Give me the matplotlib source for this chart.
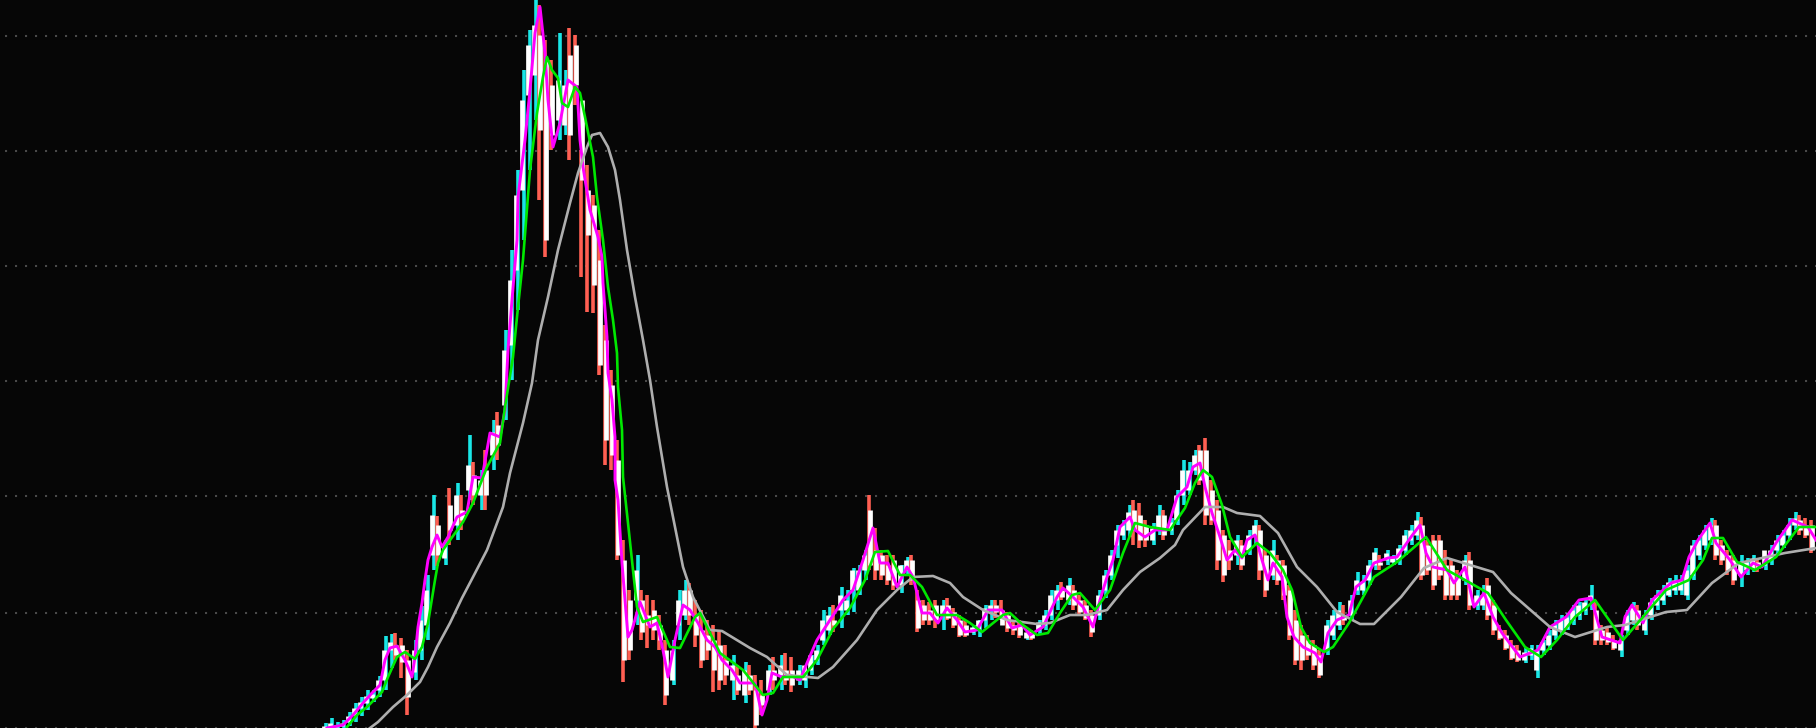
#!/usr/bin/env python3
"""Candlestick chart with three moving averages on a black screen."""

import numpy as np
import matplotlib

matplotlib.use("Agg")
import matplotlib.pyplot as plt

# The chart has no axis labels, so prices are kept as the row they were read at.
grid_levels = [36, 151, 266, 381, 496, 613, 728]

# One bar per 6 columns, starting at column 312, ten bars a line.
first_bar = 312
bar_step = 6

bar_high = [
    735, 733, 723, 718, 722, 720, 712, 703, 697, 690,
    690, 676, 636, 634, 633, 638, 650, 640, 606, 575,
    495, 516, 540, 488, 483, 495, 435, 462, 470, 450,
    420, 412, 330, 250, 170, 70, 30, 0, 5, 40,
    60, 33, 70, 28, 35, 150, 165, 195, 230, 325,
    370, 440, 540, 590, 555, 590, 595, 600, 615, 640,
    640, 590, 580, 583, 600, 610, 620, 625, 630, 645,
    655, 665, 662, 665, 675, 680, 665, 657, 655, 653,
    657, 665, 670, 655, 645, 610, 607, 605, 587, 590,
    568, 565, 550, 495, 528, 550, 555, 555, 565, 557,
    555, 590, 600, 602, 600, 600, 598, 608, 615, 620,
    625, 620, 605, 600, 600, 600, 612, 620, 620, 630,
    630, 620, 610, 590, 585, 582, 578, 585, 595, 600,
    610, 590, 570, 550, 525, 520, 505, 500, 503, 520,
    523, 505, 510, 518, 490, 460, 462, 450, 445, 438,
    480, 500, 530, 540, 535, 540, 530, 520, 525, 550,
    540, 555, 560, 585, 610, 625, 635, 640, 650, 620,
    610, 602, 605, 595, 572, 575, 560, 548, 555, 550,
    555, 545, 530, 525, 512, 517, 540, 535, 535, 550,
    560, 570, 555, 552, 590, 585, 578, 600, 625, 630,
    640, 645, 648, 645, 645, 640, 630, 620, 615, 613,
    605, 602, 598, 585, 600, 625, 628, 635, 635, 610,
    602, 605, 610, 598, 590, 585, 578, 575, 575, 565,
    540, 535, 525, 518, 520, 540, 550, 555, 555, 558,
    555, 558, 555, 545, 535, 530, 518, 512, 515, 518,
    520,
]
bar_low = [
    738, 736, 735, 733, 732, 730, 726, 722, 716, 710,
    702, 697, 690, 668, 660, 678, 715, 680, 660, 640,
    570, 566, 565, 545, 540, 530, 500, 505, 510, 510,
    470, 460, 420, 380, 310, 240, 170, 120, 200, 257,
    150, 140, 135, 160, 105, 277, 312, 313, 375, 465,
    470, 560, 682, 660, 625, 640, 648, 640, 650, 705,
    685, 640, 620, 625, 647, 668, 660, 692, 690, 685,
    700, 695, 703, 695, 728, 715, 695, 690, 690, 685,
    692, 685, 688, 675, 665, 645, 635, 632, 628, 615,
    612, 595, 580, 570, 580, 580, 585, 590, 593, 575,
    585, 632, 625, 625, 628, 630, 620, 628, 637, 637,
    635, 637, 628, 620, 618, 620, 632, 635, 638, 640,
    640, 635, 630, 620, 610, 600, 605, 610, 615, 620,
    637, 620, 598, 580, 558, 540, 537, 545, 548, 547,
    545, 535, 540, 535, 525, 505, 495, 475, 485, 525,
    525, 570, 582, 570, 565, 570, 555, 545, 580, 597,
    580, 585, 600, 640, 665, 670, 660, 670, 678, 655,
    640, 630, 625, 620, 595, 595, 585, 570, 570, 565,
    565, 565, 555, 545, 540, 580, 575, 590, 580, 600,
    600, 600, 585, 610, 610, 610, 620, 635, 640, 650,
    660, 662, 663, 660, 678, 655, 650, 640, 635, 630,
    625, 620, 615, 610, 645, 645, 645, 650, 657, 635,
    625, 630, 635, 620, 610, 605, 597, 595, 595, 600,
    580, 560, 550, 545, 560, 565, 575, 585, 587, 575,
    572, 572, 570, 565, 555, 548, 540, 530, 535, 538,
    553,
]
bar_open = [
    734, 732, 729, 727, 727, 726, 722, 715, 708, 703,
    698, 690, 680, 650, 645, 645, 660, 672, 650, 625,
    555, 525, 558, 505, 525, 510, 490, 475, 495, 470,
    455, 425, 405, 345, 270, 190, 95, 75, 35, 60,
    85, 120, 125, 55, 45, 100, 190, 205, 260, 340,
    385, 460, 560, 600, 600, 600, 615, 610, 625, 650,
    680, 625, 615, 590, 615, 630, 635, 640, 645, 660,
    680, 675, 695, 675, 690, 695, 690, 670, 675, 670,
    670, 680, 680, 670, 660, 640, 630, 620, 610, 610,
    590, 590, 570, 510, 550, 555, 565, 560, 585, 570,
    560, 600, 605, 610, 605, 615, 605, 612, 620, 625,
    632, 630, 620, 610, 605, 610, 615, 625, 625, 638,
    632, 630, 625, 615, 600, 590, 600, 590, 600, 605,
    615, 615, 590, 575, 545, 535, 530, 510, 515, 525,
    540, 530, 515, 530, 520, 495, 490, 470, 450, 450,
    490, 510, 535, 550, 555, 545, 550, 535, 530, 555,
    575, 560, 565, 590, 620, 635, 640, 645, 655, 650,
    635, 625, 615, 615, 590, 590, 580, 565, 562, 560,
    562, 560, 550, 540, 535, 525, 545, 540, 540, 565,
    565, 575, 580, 560, 605, 605, 585, 605, 630, 635,
    645, 650, 660, 655, 670, 650, 645, 635, 630, 628,
    620, 615, 610, 600, 610, 630, 632, 640, 650, 630,
    620, 610, 630, 615, 605, 600, 595, 590, 590, 595,
    575, 555, 545, 540, 525, 545, 555, 560, 575, 570,
    568, 562, 565, 560, 550, 545, 535, 525, 520, 525,
    525,
]
bar_close = [
    733, 731, 726, 723, 725, 723, 716, 708, 702, 696,
    694, 680, 650, 642, 655, 662, 697, 650, 620, 590,
    515, 555, 545, 530, 495, 520, 465, 495, 480, 495,
    432, 445, 350, 280, 195, 100, 45, 25, 130, 240,
    135, 80, 85, 135, 85, 180, 235, 285, 365, 440,
    455, 555, 660, 650, 570, 632, 625, 630, 640, 695,
    650, 600, 590, 615, 635, 660, 650, 670, 680, 675,
    665, 690, 670, 690, 725, 705, 670, 680, 665, 680,
    685, 670, 665, 655, 650, 620, 615, 625, 595, 600,
    570, 570, 555, 565, 570, 575, 580, 585, 565, 560,
    580, 628, 620, 620, 620, 605, 618, 625, 635, 635,
    627, 620, 608, 605, 612, 625, 628, 630, 635, 632,
    638, 622, 615, 595, 590, 597, 585, 605, 612, 618,
    632, 595, 575, 555, 530, 525, 512, 530, 540, 540,
    528, 515, 535, 522, 495, 470, 470, 455, 480, 515,
    520, 560, 575, 560, 540, 565, 535, 525, 570, 590,
    550, 580, 595, 635, 660, 660, 655, 665, 675, 625,
    615, 610, 620, 600, 580, 582, 565, 552, 565, 553,
    558, 548, 535, 530, 520, 575, 570, 585, 575, 595,
    595, 595, 560, 605, 595, 595, 615, 630, 638, 648,
    658, 660, 652, 648, 650, 642, 635, 625, 620, 617,
    610, 605, 602, 595, 640, 640, 642, 648, 640, 615,
    606, 625, 615, 602, 595, 590, 582, 580, 580, 570,
    545, 540, 530, 525, 555, 560, 570, 580, 562, 562,
    558, 568, 550, 550, 540, 535, 525, 518, 530, 535,
    550,
]

fast_x = [
    327, 343, 353, 363, 372, 380, 385, 390, 397, 402, 405, 408, 412, 415, 418, 422, 425, 428,
    432, 437, 442, 448, 457, 467, 473, 482, 490, 500, 505, 508, 512, 517, 518, 525, 530, 535,
    540, 545, 548, 553, 560, 568, 577, 580, 583, 590, 598, 602, 603, 607, 608, 612, 615, 615,
    618, 622, 628, 632, 640, 650, 657, 663, 668, 675, 683, 690, 698, 707, 715, 722, 732, 740,
    747, 755, 762, 767, 772, 782, 790, 800, 807, 817, 830, 843, 853, 863, 873, 880, 888, 897,
    907, 913, 922, 930, 938, 947, 957, 965, 977, 988, 1002, 1012, 1022, 1030, 1043, 1057,
    1063, 1073, 1083, 1093, 1100, 1107, 1113, 1120, 1130, 1135, 1145, 1155, 1167, 1177, 1187,
    1193, 1200, 1205, 1212, 1220, 1227, 1235, 1242, 1247, 1255, 1262, 1268, 1273, 1282, 1287,
    1294, 1303, 1315, 1321, 1328, 1337, 1349, 1356, 1365, 1374, 1388, 1397, 1411, 1420, 1426,
    1433, 1447, 1454, 1465, 1474, 1484, 1493, 1502, 1520, 1538, 1550, 1566, 1579, 1591, 1602,
    1620, 1625, 1632, 1643, 1652, 1671, 1682, 1689, 1698, 1710, 1716, 1730, 1741, 1753, 1762,
    1776, 1792, 1808, 1816,
]
fast_ma = [
    728, 725, 715, 703, 693, 685, 660, 648, 646, 655, 660, 667, 677, 657, 627, 603, 580, 560,
    547, 535, 547, 537, 517, 512, 477, 478, 433, 437, 410, 350, 300, 240, 197, 140, 90, 33,
    7, 53, 100, 147, 123, 80, 87, 140, 167, 210, 237, 257, 283, 337, 373, 400, 437, 480,
    500, 563, 637, 630, 602, 627, 623, 650, 677, 640, 605, 610, 623, 640, 647, 660, 670, 683,
    683, 683, 715, 700, 673, 677, 675, 680, 663, 640, 620, 600, 590, 560, 528, 563, 563, 587,
    567, 577, 613, 613, 623, 608, 620, 632, 630, 610, 610, 628, 625, 635, 627, 597,
    588, 597, 607, 627, 600, 577, 560, 527, 517, 530, 537, 530, 530, 497, 487,
    467, 463, 487, 513, 537, 560, 550, 558, 540, 535, 560, 580, 563, 577, 617,
    637, 647, 653, 662, 633, 620, 615, 587, 580, 563, 558, 557, 537, 525, 553,
    567, 570, 583, 567, 607, 593, 617, 633, 657, 650, 627, 617, 600, 598, 637,
    643, 617, 605, 623, 600, 583, 580, 557, 540, 523, 543, 560, 577, 563, 567,
    543, 520, 527, 540,
]

mid_x = [
    347, 357, 367, 382, 388, 397, 405, 415, 422, 428, 435, 438, 443, 463, 473, 487, 500, 505,
    513, 518, 523, 530, 537, 543, 547, 552, 558, 562, 568, 575, 580, 585, 593, 597, 603, 608,
    613, 617, 618, 622, 623, 628, 633, 637, 643, 657, 670, 680, 695, 700, 720, 743, 763, 773,
    783, 803, 817, 833, 850, 865, 875, 888, 900, 910, 922, 937, 957, 970, 982, 1003, 1010,
    1023, 1037, 1048, 1060, 1072, 1080, 1095, 1110, 1123, 1135, 1150, 1170, 1185, 1195, 1203,
    1212, 1222, 1230, 1242, 1257, 1270, 1283, 1292, 1301, 1310, 1324, 1333, 1349, 1374, 1397,
    1426, 1447, 1465, 1488, 1506, 1525, 1541, 1557, 1575, 1595, 1623, 1643, 1666, 1689, 1703,
    1712, 1723, 1737, 1755, 1776, 1799, 1816,
]
mid_ma = [
    727, 715, 707, 692, 677, 657, 652, 659, 647, 623, 580, 563, 550, 522, 503, 467, 443, 407,
    357, 307, 260, 170, 113, 77, 57, 70, 78, 103, 107, 87, 93, 117, 157, 197, 240, 287,
    320, 353, 387, 430, 477, 523, 570, 607, 622, 617, 647, 648, 617, 613, 653, 670, 695, 693,
    677, 677, 660, 629, 608, 580, 552, 551, 575, 575, 587, 615, 615, 623, 632, 615, 613,
    625, 635, 633, 613, 595, 593, 610, 590, 553, 523, 527, 530, 508, 483, 470,
    477, 505, 537, 557, 543, 553, 570, 590, 627, 643, 652, 647, 623, 577, 562,
    537, 570, 580, 593, 620, 647, 657, 640, 617, 600, 640, 617, 590, 580, 560,
    538, 538, 562, 570, 557, 527, 527,
]

slow_x = [
    370, 378, 393, 407, 420, 428, 437, 450, 462, 473, 487, 503, 510, 523, 532, 538, 548, 558,
    570, 578, 587, 592, 600, 608, 615, 620, 627, 635, 643, 650, 657, 667, 683, 693, 710, 722,
    750, 767, 787, 818, 833, 857, 877, 897, 913, 933, 950, 963, 983, 1007, 1037, 1050, 1070,
    1087, 1107, 1123, 1140, 1160, 1175, 1183, 1205, 1223, 1237, 1260, 1278, 1297, 1317, 1337,
    1360, 1374, 1401, 1424, 1447, 1493, 1511, 1550, 1575, 1607, 1625, 1666, 1687, 1712, 1739,
    1785, 1816,
]
slow_ma = [
    728, 722, 707, 695, 682, 667, 647, 623, 598, 577, 550, 507, 473, 423, 383, 340, 297, 250,
    203, 173, 147, 135, 133, 147, 170, 200, 250, 297, 340, 380, 427, 487, 567, 597, 630, 631,
    648, 657, 675, 678, 667, 640, 610, 590, 577, 576, 583, 597, 610, 620, 624, 623, 615,
    615, 610, 590, 572, 558, 545, 530, 507, 507, 513, 516, 533, 567, 587, 612,
    624, 624, 597, 568, 558, 572, 593, 627, 637, 627, 625, 612, 610, 583, 563,
    553, 548,
]

UP_COLOR = "#19e6e6"
DOWN_COLOR = "#ff5f52"
BODY_COLOR = "#ffffff"


def main() -> None:
    high = np.array(bar_high)
    low = np.array(bar_low)
    opens = np.array(bar_open)
    closes = np.array(bar_close)
    x = first_bar + bar_step * np.arange(len(high))

    # Rows grow downwards, so a close above the open is a smaller number.
    up = closes <= opens

    fig = plt.figure(figsize=(18.16, 7.28), dpi=100, facecolor="#060606")
    ax = fig.add_axes([0, 0, 1, 1], facecolor="#060606")
    ax.set_xlim(0, 1816)
    ax.set_ylim(728, 0)
    ax.axis("off")

    ax.hlines(grid_levels, 5, 1816, colors="#4a4a4a", linewidth=1.5, linestyle=(0, (1, 3.8)), zorder=1)

    # The reference shows coloured fringes left and right of each white bar.
    ax.vlines(x[up] + 1.5, high[up], low[up], colors=UP_COLOR, linewidth=2.6, zorder=2)
    ax.vlines(x[~up] - 1.5, high[~up], low[~up], colors=DOWN_COLOR, linewidth=2.6, zorder=2)
    ax.vlines(x, np.minimum(opens, closes), np.maximum(opens, closes), colors=BODY_COLOR, linewidth=3.4, zorder=3)

    ax.plot(fast_x, fast_ma, color="#ff00ff", linewidth=2.1, zorder=4)
    ax.plot(slow_x, slow_ma, color="#aeaeae", linewidth=1.9, zorder=5)
    ax.plot(mid_x, mid_ma, color="#00e800", linewidth=1.9, zorder=6)

    fig.savefig("out.png", dpi=100, facecolor=fig.get_facecolor())
    plt.close(fig)


if __name__ == "__main__":
    main()
